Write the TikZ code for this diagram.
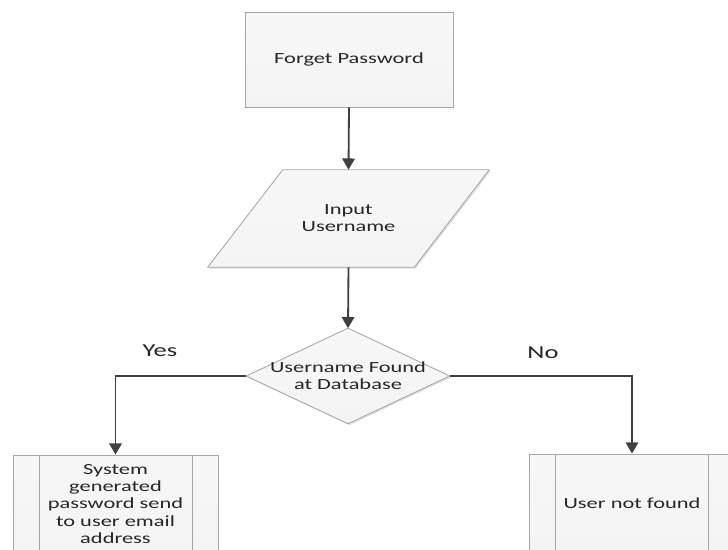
\documentclass[tikz,border=0pt]{standalone}
\usepackage{fontspec}
\setmainfont{Carlito}[FakeStretch=1.45]
\usetikzlibrary{arrows.meta,backgrounds,shadows}

\definecolor{boxfill}{HTML}{F4F4F4}
\definecolor{boxline}{HTML}{A6A6A6}
\definecolor{flowline}{HTML}{404040}
\definecolor{txtcol}{HTML}{262626}

\tikzset{
  boxshape/.style={draw=boxline, line width=0.6pt, top color=boxfill!70!white, bottom color=boxfill,
    drop shadow={shadow xshift=1pt, shadow yshift=-1pt, opacity=0.25}},
  procbox/.style={boxshape, rectangle, minimum width=5.2cm, minimum height=2.375cm,
    align=center, text=txtcol, font=\fontsize{11}{12.2}\selectfont},
  textonly/.style={rectangle, align=center, text=txtcol, inner sep=0pt,
    font=\fontsize{11}{12.2}\selectfont},
  subproc/.style={procbox, minimum width=5.125cm, minimum height=2.45cm,
    path picture={
      \draw[boxline, line width=0.6pt] ([xshift=0.65cm]path picture bounding box.north west) -- ([xshift=0.65cm]path picture bounding box.south west);
      \draw[boxline, line width=0.6pt] ([xshift=-0.65cm]path picture bounding box.north east) -- ([xshift=-0.65cm]path picture bounding box.south east);
    }},
  answer/.style={text=txtcol, font=\fontsize{13}{15}\selectfont},
  flow/.style={draw=flowline, line width=1.3pt, -{Triangle[width=9pt,length=8pt]}}
}

\begin{document}
\begin{tikzpicture}
    \useasboundingbox (0,0) rectangle (18.2,13.725);

    \node[procbox] (forget) at (8.725,12.2375) {Forget Password};
    \node[textonly, minimum width=5.15cm, minimum height=2.425cm] (input) at (8.7125,8.2625) {Input\\Username};
    \node[textonly, minimum width=5.075cm, minimum height=2.375cm] (dec) at (8.7,4.325) {Username Found\\at Database};
    \node[subproc] (sysgen) at (2.8875,1.125) {System\\generated\\password send\\to user email\\address};
    \node[subproc] (notfound) at (15.8,1.15) {User not found};

    \node[answer] (yes) at (4.0,4.95) {Yes};
    \node[answer] (no) at (13.575,4.9) {No};

    % shapes behind the texts
    \begin{scope}[on background layer]
        \path[boxshape] ([xshift=0.9375cm]input.north west) -- ([xshift=0.9375cm]input.north east)
            -- ([xshift=-0.9375cm]input.south east) -- ([xshift=-0.9375cm]input.south west) -- cycle;
        \path[boxshape] (dec.north) -- (dec.east) -- (dec.south) -- (dec.west) -- cycle;
    \end{scope}

    \draw[flow] (forget.south) -- (input.north);
    \draw[flow] (input.south) -- (dec.north);
    \draw[flow] (dec.west) -| (sysgen.north);
    \draw[flow] (dec.east) -| (notfound.north);
\end{tikzpicture}
\end{document}
